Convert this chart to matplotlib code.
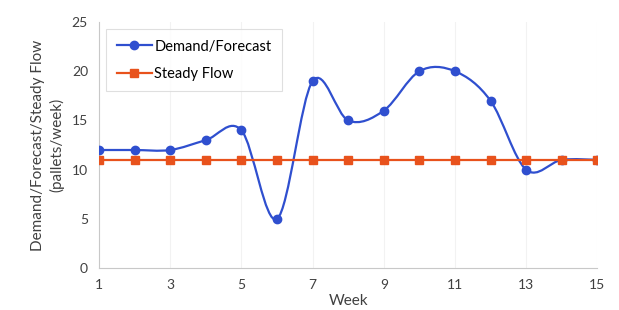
import numpy as np
import matplotlib
matplotlib.use("Agg")
import matplotlib.pyplot as plt
from matplotlib.path import Path
from matplotlib.patches import PathPatch

plt.rcParams['font.family'] = ['Lato', 'DejaVu Sans']

weeks = np.arange(1, 16)
demand = [12, 12, 12, 13, 14, 5, 19, 15, 16, 20, 20, 17, 10, 11, 11]
steady = [11] * 15

blue = '#2f4fcf'
orange = '#e8521c'


def smooth_path(x, y, t=1/6):
    # Excel-like smoothed line: cubic bezier through each point
    x = np.asarray(x, float)
    y = np.asarray(y, float)
    n = len(x)
    verts = [(x[0], y[0])]
    codes = [Path.MOVETO]
    for i in range(n - 1):
        p0 = i - 1 if i > 0 else i
        p3 = i + 2 if i + 2 < n else i + 1
        c1 = (x[i] + (x[i + 1] - x[p0]) * t, y[i] + (y[i + 1] - y[p0]) * t)
        c2 = (x[i + 1] - (x[p3] - x[i]) * t, y[i + 1] - (y[p3] - y[i]) * t)
        verts += [c1, c2, (x[i + 1], y[i + 1])]
        codes += [Path.CURVE4] * 3
    return Path(verts, codes)


fig = plt.figure(figsize=(6.19, 3.10), dpi=100)
ax = fig.add_axes([0.160, 0.135, 0.805, 0.794])

ax.add_patch(PathPatch(smooth_path(weeks, demand), fill=False, ec=blue, lw=1.6, zorder=3))
ax.plot(weeks, demand, ls='none', marker='o', ms=6, color=blue, zorder=4)
ax.plot(weeks, steady, color=orange, lw=1.6, marker='s', ms=6, zorder=5)

# legend handles
h1, = ax.plot([], [], color=blue, lw=1.6, marker='o', ms=6, label='Demand/Forecast')
h2, = ax.plot([], [], color=orange, lw=1.6, marker='s', ms=6, label='Steady Flow')
leg = ax.legend(handles=[h1, h2], loc='upper left', bbox_to_anchor=(0.0, 1.0),
                fontsize=10.5, frameon=True, fancybox=False, handlelength=2.4,
                handletextpad=0.2, labelspacing=0.9, borderpad=0.7)
leg.get_frame().set_edgecolor('#d8d8d8')
leg.get_frame().set_linewidth(0.8)

ax.set_xlim(1, 15)
ax.set_ylim(0, 25)
ax.set_xticks(range(1, 16, 2))
ax.set_yticks(range(0, 26, 5))
ax.tick_params(length=0, labelsize=10, colors='#404040', pad=8)
ax.xaxis.grid(True, color='#f2f2f2', lw=0.8)

for s in ['top', 'right']:
    ax.spines[s].set_visible(False)
for s in ['left', 'bottom']:
    ax.spines[s].set_color('#c8c8c8')
    ax.spines[s].set_linewidth(0.8)

ax.set_xlabel('Week', fontsize=11, color='#404040', labelpad=2)
ax.set_ylabel('Demand/Forecast/Steady Flow\n(pallets/week)', fontsize=11,
              color='#404040', labelpad=5, linespacing=1.35)

fig.savefig('out.png', dpi=100)
